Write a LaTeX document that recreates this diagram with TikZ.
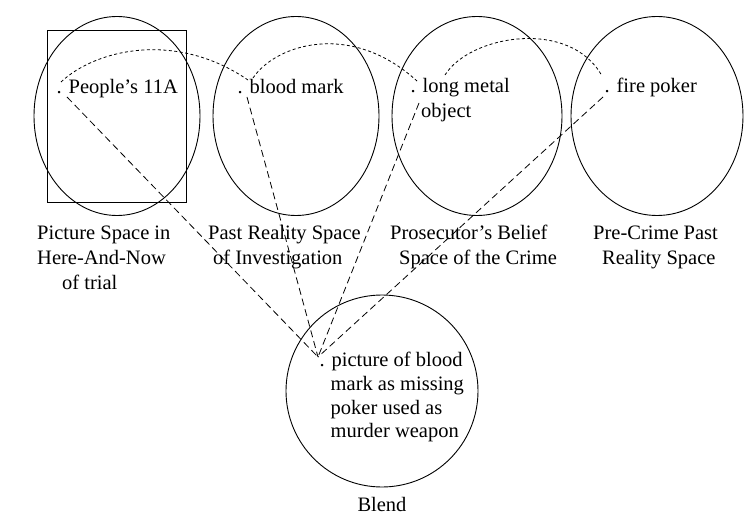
\documentclass[tikz,border=0pt]{standalone}
\usepackage{fontspec}
\setmainfont{Liberation Serif}
\usetikzlibrary{shapes.geometric}
\begin{document}
\begin{tikzpicture}[x=1pt,y=-1pt,
  space/.style={draw=black, line width=0.9pt, ellipse, inner sep=0pt},
  txt/.style={anchor=base west, inner sep=0pt, font=\fontsize{20.5}{24}\selectfont},
  link/.style={draw=black, line width=0.8pt, dash pattern=on 7pt off 4pt},
  corr/.style={draw=black, line width=0.8pt, dash pattern=on 3pt off 2.5pt},
]
\useasboundingbox (0,0) rectangle (755,521);
\fill[white] (0,0) rectangle (755,521);

% input spaces and the blend
\node[space, minimum width=166pt, minimum height=199pt] (s1) at (117,116) {};
\node[space, minimum width=166pt, minimum height=199pt] (s2) at (296,116) {};
\node[space, minimum width=170pt, minimum height=199pt] (s3) at (477,116) {};
\node[space, minimum width=172pt, minimum height=199pt] (s4) at (657,116) {};
\node[draw=black, line width=0.9pt, circle, inner sep=0pt, minimum size=192pt] (bl) at (382,391) {};

% photograph frame
\node[draw=black, line width=0.9pt, rectangle, inner sep=0pt,
      minimum width=139pt, minimum height=172pt] (frame) at (116.5,116) {};

% elements
\node[txt] (e1) at (56.5,94) {. People’s 11A};
\node[txt] (e2) at (237.5,94) {. blood mark};
\node[txt] (e3) at (410.5,93) {. long metal};
\node[txt] (e3b) at (421,118) {object};
\node[txt] (e4) at (604.5,93) {. fire poker};
\node[txt] (b1) at (319.5,366) {. picture of blood};
\node[txt] (b2) at (330.5,390) {mark as missing};
\node[txt] (b3) at (330.5,414) {poker used as};
\node[txt] (b4) at (330.5,437) {murder weapon};

% space captions
\node[txt] (c1a) at (37,240) {Picture Space in};
\node[txt] (c1b) at (37,265) {Here-And-Now};
\node[txt] (c1c) at (62,290) {of trial};
\node[txt] (c2a) at (208,240) {Past Reality Space};
\node[txt] (c2b) at (213,265) {of Investigation};
\node[txt] (c3a) at (390,240) {Prosecutor’s Belief};
\node[txt] (c3b) at (399,265) {Space of the Crime};
\node[txt] (c4a) at (593,240) {Pre-Crime Past};
\node[txt] (c4b) at (602,265) {Reality Space};
\node[txt, anchor=base] (cb) at (382,511) {Blend};

% connector ends
\coordinate (p1top) at (61,82);
\coordinate (p2in) at (248,80);
\coordinate (p2top) at (253,78);
\coordinate (p3in) at (417,81);
\coordinate (p3top) at (445,75);
\coordinate (p4in) at (602,76);
\coordinate (p1low) at (67,97);
\coordinate (p2low) at (247,97);
\coordinate (p3low) at (419,103);
\coordinate (p4low) at (603,97);
\coordinate (hub) at (318,357);

% cross-space correspondences
\draw[corr] (p1top) .. controls (95,50) and (175,30) .. (p2in);
\draw[corr] (p2top) .. controls (275,45) and (350,20) .. (p3in);
\draw[corr] (p3top) .. controls (470,35) and (570,18) .. (p4in);

% projections into the blend
\draw[link] (p1low) -- (hub);
\draw[link] (p2low) -- (hub);
\draw[link] (p3low) -- (hub);
\draw[link] (p4low) -- (hub);
\end{tikzpicture}
\end{document}
